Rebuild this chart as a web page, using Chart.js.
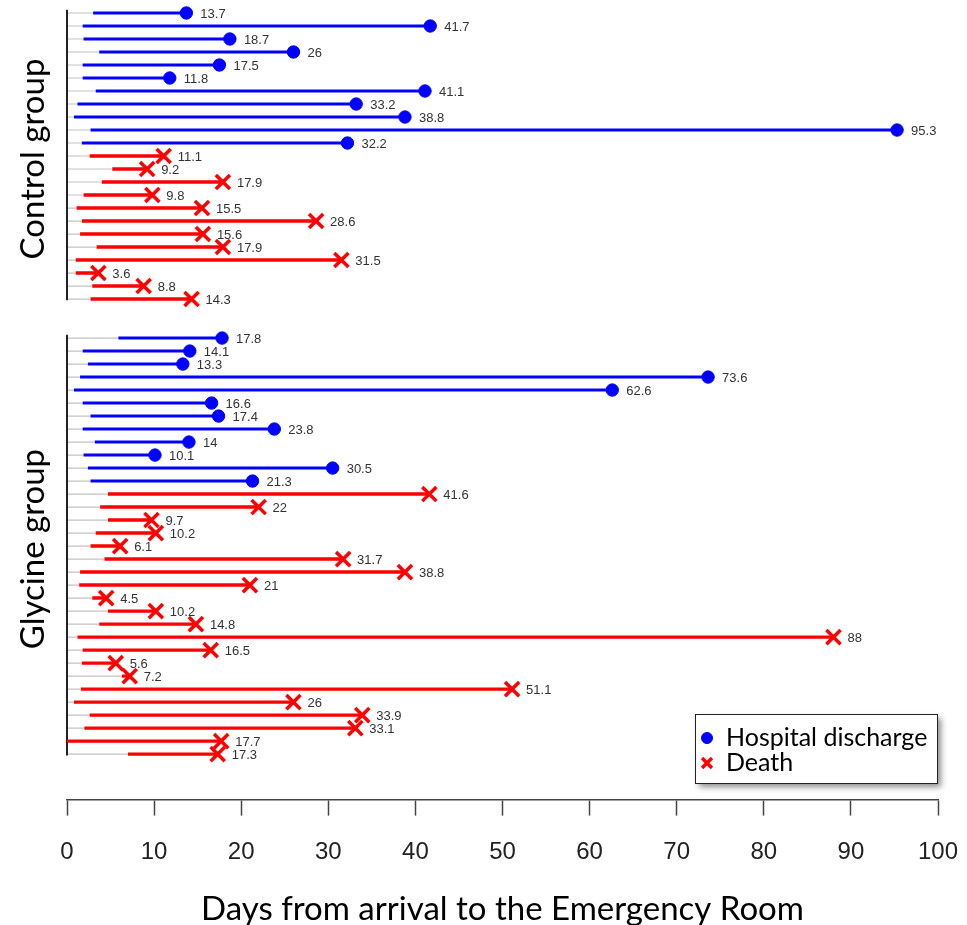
<!DOCTYPE html>
<html lang="en">
<head>
<meta charset="UTF-8" />
<title>Days from arrival to the Emergency Room</title>
<script src="https://cdn.jsdelivr.net/npm/chart.js"></script>
<style>
  html, body { margin: 0; padding: 0; background: #fff; }
  #wrap { width: 967px; height: 925px; }
</style>
</head>
<body>
<div id="wrap"><canvas id="swimmer" width="967" height="925"></canvas></div>
<script>
// control group, top to bottom
const controlStart = [3.0, 1.8, 1.9, 3.7, 1.8, 1.8, 3.3, 1.2, 0.8, 2.7, 1.7,
  2.6, 5.2, 4.0, 1.9, 1.1, 1.7, 1.5, 3.4, 1.0, 1.0, 2.9, 2.7];
const controlEnd = [13.7, 41.7, 18.7, 26, 17.5, 11.8, 41.1, 33.2, 38.8, 95.3, 32.2,
  11.1, 9.2, 17.9, 9.8, 15.5, 28.6, 15.6, 17.9, 31.5, 3.6, 8.8, 14.3];
const controlOutcome = ['H','H','H','H','H','H','H','H','H','H','H',
  'D','D','D','D','D','D','D','D','D','D','D','D'];

// glycine group, top to bottom
const glycineStart = [5.9, 1.8, 2.4, 1.5, 0.8, 1.8, 2.7, 1.8, 3.2, 1.9, 2.4, 2.7,
  4.7, 3.8, 4.7, 3.3, 2.7, 4.3, 1.5, 1.4, 2.9, 4.7, 3.7, 1.2, 1.8, 1.7, 6.3,
  1.6, 0.8, 2.6, 2.0, 0.0, 7.0];
const glycineEnd = [17.8, 14.1, 13.3, 73.6, 62.6, 16.6, 17.4, 23.8, 14, 10.1, 30.5, 21.3,
  41.6, 22, 9.7, 10.2, 6.1, 31.7, 38.8, 21, 4.5, 10.2, 14.8, 88, 16.5, 5.6, 7.2,
  51.1, 26, 33.9, 33.1, 17.7, 17.3];
const glycineOutcome = ['H','H','H','H','H','H','H','H','H','H','H','H',
  'D','D','D','D','D','D','D','D','D','D','D','D','D','D','D',
  'D','D','D','D','D','D'];

const groupNames = ['Control group', 'Glycine group'];
const outcomeNames = { H: 'Hospital discharge', D: 'Death' };
const xTicks = [0, 10, 20, 30, 40, 50, 60, 70, 80, 90, 100];
const xTitle = 'Days from arrival to the Emergency Room';

const BLUE = '#0000ff';
const RED = '#ff0000';
const glycineFirstRow = controlEnd.length + 2;

// build rows
const rows = [];
controlEnd.forEach((v, i) => rows.push({ row: i, start: controlStart[i], end: v, out: controlOutcome[i] }));
glycineEnd.forEach((v, i) => rows.push({ row: glycineFirstRow + i, start: glycineStart[i], end: v, out: glycineOutcome[i] }));

function segments(list, from, to) {
  const pts = [];
  list.forEach(r => {
    pts.push({ x: from(r), y: r.row }, { x: to(r), y: r.row }, { x: to(r), y: null });
  });
  return pts;
}

const blueRows = rows.filter(r => r.out === 'H');
const redRows = rows.filter(r => r.out === 'D');
const groups = [
  { name: groupNames[0], first: 0, last: controlEnd.length - 1 },
  { name: groupNames[1], first: glycineFirstRow, last: glycineFirstRow + glycineEnd.length - 1 }
];

const axisPts = [];
groups.forEach(g => axisPts.push({ x: 0, y: g.first - 0.25 }, { x: 0, y: g.last + 0.1 }, { x: 0, y: null }));

const valueLabels = {
  id: 'valueLabels',
  afterDatasetsDraw(chart) {
    const ctx = chart.ctx;
    const xs = chart.scales.x, ys = chart.scales.y;
    ctx.save();
    ctx.font = '13px "Liberation Sans", Arial, sans-serif';
    ctx.fillStyle = '#333';
    ctx.textBaseline = 'middle';
    rows.forEach(r => {
      ctx.fillText(String(r.end), xs.getPixelForValue(r.end) + 14, ys.getPixelForValue(r.row) + 1);
    });
    // group titles
    ctx.font = '33px Lato, "Open Sans", sans-serif';
    ctx.fillStyle = '#000';
    ctx.textAlign = 'center';
    groups.forEach(g => {
      const yc = ys.getPixelForValue((g.first + g.last) / 2);
      ctx.save();
      ctx.translate(33, yc + 3);
      ctx.rotate(-Math.PI / 2);
      ctx.fillText(g.name, 0, 0);
      ctx.restore();
    });
    ctx.restore();
  }
};

const legendBox = {
  id: 'legendBox',
  afterDraw(chart) {
    const ctx = chart.ctx;
    const x = 695, y = 714, w = 242, h = 69;
    ctx.save();
    ctx.shadowColor = 'rgba(0,0,0,0.45)';
    ctx.shadowBlur = 6;
    ctx.shadowOffsetX = 4;
    ctx.shadowOffsetY = 4;
    ctx.fillStyle = '#fff';
    ctx.fillRect(x, y, w, h);
    ctx.shadowColor = 'transparent';
    ctx.strokeStyle = '#222';
    ctx.lineWidth = 1;
    ctx.strokeRect(x + 0.5, y + 0.5, w, h);
    const items = [
      { ds: chart.data.datasets[0], label: outcomeNames.H, cy: y + 24 },
      { ds: chart.data.datasets[1], label: outcomeNames.D, cy: y + 49 }
    ];
    ctx.font = '25px Lato, "Open Sans", sans-serif';
    ctx.textBaseline = 'middle';
    items.forEach(it => {
      ctx.fillStyle = it.ds.pointBackgroundColor;
      ctx.strokeStyle = it.ds.pointBorderColor;
      ctx.lineWidth = it.ds.pointBorderWidth;
      Chart.helpers.drawPoint(ctx, {
        pointStyle: it.ds.pointStyle,
        radius: it.ds.pointStyle === 'circle' ? 5.5 : 7,
        borderWidth: it.ds.pointBorderWidth
      }, x + 12, it.cy);
      ctx.fillStyle = '#000';
      ctx.fillText(it.label, x + 31, it.cy);
    });
    ctx.restore();
  }
};

new Chart(document.getElementById('swimmer'), {
  type: 'scatter',
  data: {
    datasets: [
      {
        label: outcomeNames.H,
        data: blueRows.map(r => ({ x: r.end, y: r.row })),
        pointStyle: 'circle', pointRadius: 6.2,
        pointBackgroundColor: BLUE, pointBorderColor: BLUE, pointBorderWidth: 1,
        clip: false
      },
      {
        label: outcomeNames.D,
        data: redRows.map(r => ({ x: r.end, y: r.row })),
        pointStyle: 'crossRot', pointRadius: 10,
        pointBackgroundColor: RED, pointBorderColor: RED, pointBorderWidth: 3.5,
        clip: false
      },
      {
        data: segments(blueRows, r => r.start, r => r.end),
        showLine: true, borderColor: BLUE, borderWidth: 3, pointRadius: 0, spanGaps: false, clip: false
      },
      {
        data: segments(redRows, r => r.start, r => r.end),
        showLine: true, borderColor: RED, borderWidth: 3.4, pointRadius: 0, spanGaps: false, clip: false
      },
      {
        data: axisPts,
        showLine: true, borderColor: '#222', borderWidth: 2, pointRadius: 0, spanGaps: false, clip: false
      },
      {
        data: segments(rows, () => 0, r => r.start),
        showLine: true, borderColor: '#c4c4c4', borderWidth: 1.2, pointRadius: 0, spanGaps: false, clip: false
      }
    ]
  },
  options: {
    responsive: false,
    animation: false,
    devicePixelRatio: 1,
    layout: { autoPadding: false, padding: { left: 67, right: 29, top: 0, bottom: 0 } },
    plugins: { legend: { display: false }, tooltip: { enabled: false } },
    scales: {
      x: {
        type: 'linear', min: 0, max: 100,
        afterBuildTicks: s => { s.ticks = xTicks.map(v => ({ value: v })); },
        afterFit: s => { s.paddingLeft = 0; s.paddingRight = 0; },
        border: { display: true, color: '#444', width: 1.5 },
        grid: { drawOnChartArea: false, drawTicks: true, tickLength: 16, tickColor: '#444', tickWidth: 1.5 },
        ticks: { padding: 22, color: '#222', font: { family: '"Liberation Sans", Arial, sans-serif', size: 24 } },
        title: {
          display: true, text: xTitle, color: '#000',
          font: { family: 'Lato, "Open Sans", sans-serif', size: 33 },
          padding: { top: 1, bottom: -4 }
        }
      },
      y: {
        type: 'linear', reverse: true, min: -1, max: 60.5,
        display: false
      }
    }
  },
  plugins: [valueLabels, legendBox]
});
</script>
</body>
</html>
